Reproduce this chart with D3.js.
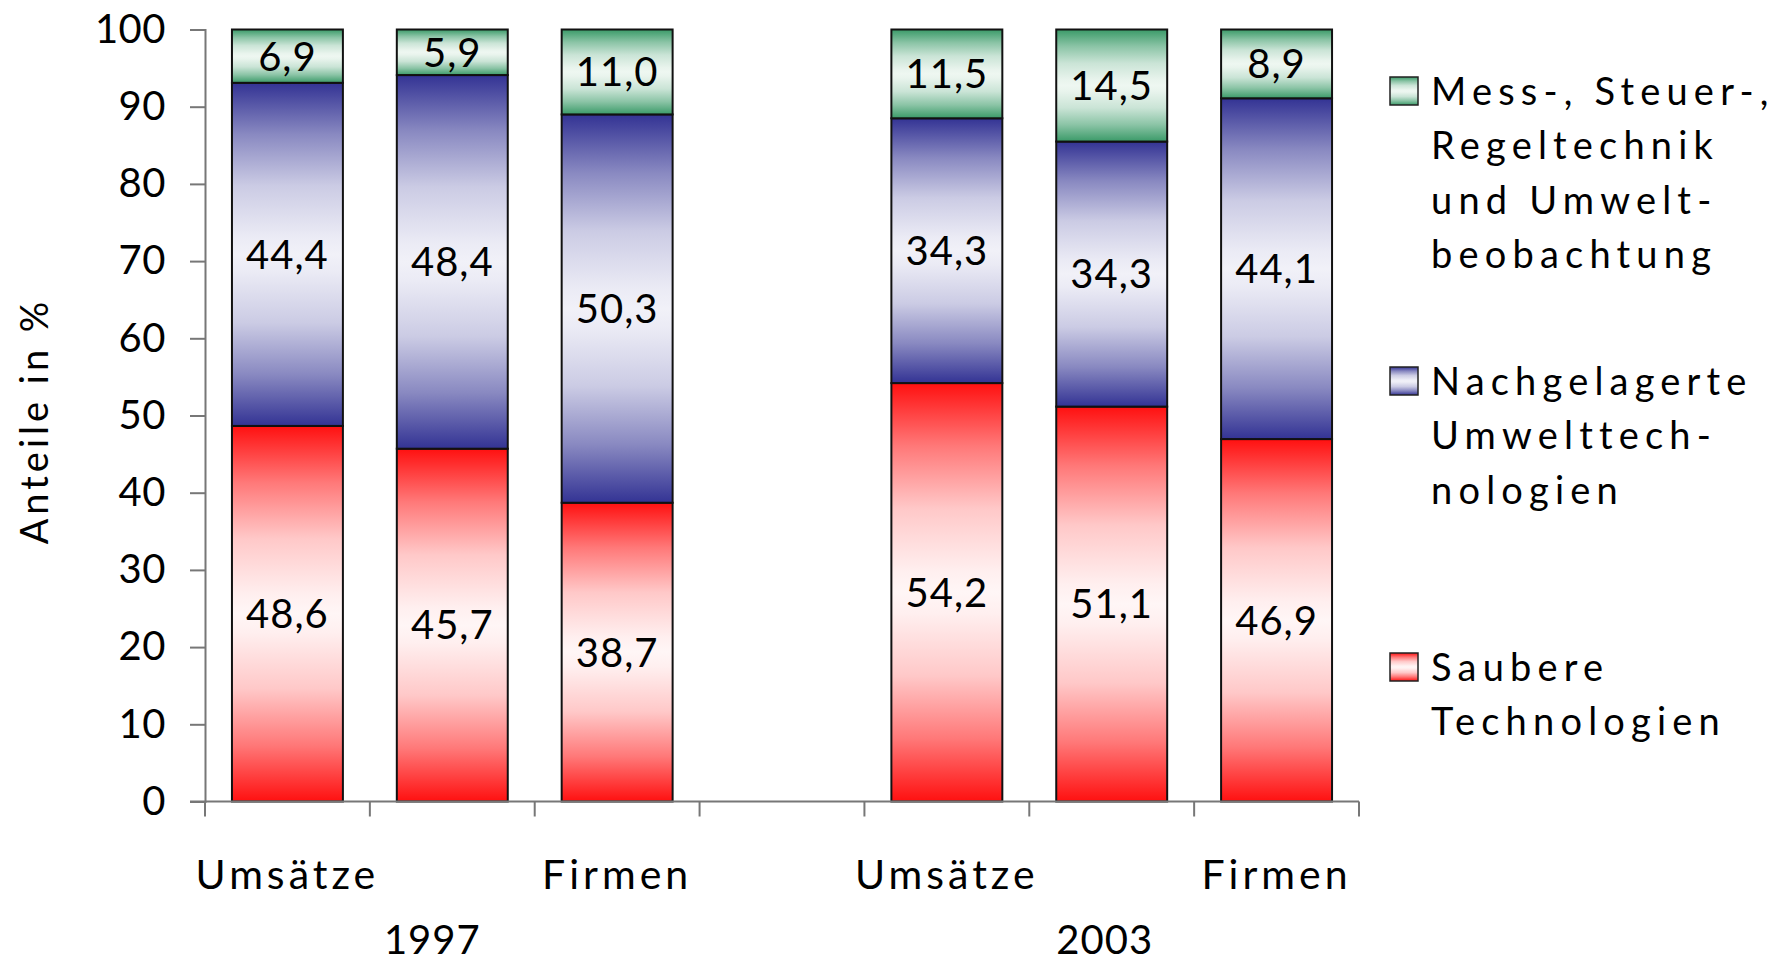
<!DOCTYPE html>
<html>
<head>
<meta charset="utf-8">
<script src="https://cdn.jsdelivr.net/npm/d3@7"></script>
<style>
  html, body { margin: 0; padding: 0; background: #fff; }
  svg { display: block; font-family: "Lato", "DejaVu Sans", sans-serif; }
</style>
</head>
<body>
<svg id="chart" width="1783" height="964"></svg>
<script>
// ---- data ----
const years = ["1997", "2003"];
const categories = ["Umsätze", "", "Firmen"];       // middle category label not shown in the original
const seriesNames = ["Saubere Technologien", "Nachgelagerte Umwelttechnologien", "Mess-, Steuer-, Regeltechnik und Umweltbeobachtung"];
const saubere      = [48.6, 45.7, 38.7, 54.2, 51.1, 46.9];
const nachgelagert = [44.4, 48.4, 50.3, 34.3, 34.3, 44.1];
const messSteuer   = [6.9, 5.9, 11.0, 11.5, 14.5, 8.9];
const yTicks = [0, 10, 20, 30, 40, 50, 60, 70, 80, 90, 100];
const legendLines = [
  ["Mess-, Steuer-,", "Regeltechnik", "und Umwelt-", "beobachtung"],
  ["Nachgelagerte", "Umwelttech-", "nologien"],
  ["Saubere", "Technologien"]
];

// ---- styles ----
const edgeColors = ["#ff1010", "#333394", "#3a9a68"];
const midColors  = ["#fff6f6", "#f1f1f8", "#eef7f1"];
const yearLabelShift = [-20, -7];

const svg = d3.select("#chart");
const defs = svg.append("defs");
edgeColors.forEach((c, i) => {
  const g = defs.append("linearGradient").attr("id", "grad" + i)
    .attr("x1", 0).attr("y1", 0).attr("x2", 0).attr("y2", 1);
  const mix = d3.interpolateRgb(c, midColors[i]);
  [[0, 0], [0.15, 0.45], [0.3, 0.8], [0.45, 0.97], [0.5, 1], [0.55, 0.97], [0.7, 0.8], [0.85, 0.45], [1, 0]]
    .forEach(([o, t]) => g.append("stop").attr("offset", o).attr("stop-color", mix(t)));
});

// slots: 3 bars per year, with an empty slot between the years
const slots = [];
years.forEach((yr, yi) => {
  categories.forEach((c, ci) => slots.push({ year: yr, cat: c, idx: yi * 3 + ci }));
  if (yi < years.length - 1) slots.push({ year: null, cat: null, idx: null });
});
slots.forEach((s, i) => s.key = "s" + i);

const x = d3.scaleBand().domain(slots.map(s => s.key)).range([205, 1359]).padding(0);
const barW = x.bandwidth() * 0.673;
const y = d3.scaleLinear().domain([0, 100]).range([801.5, 29.5]);

// stacked data (100% stacked)
const rows = slots.filter(s => s.idx !== null).map(s => {
  const vals = [saubere[s.idx], nachgelagert[s.idx], messSteuer[s.idx]];
  const tot = d3.sum(vals);
  return { key: s.key, raw: vals, s0: vals[0] / tot * 100, s1: vals[1] / tot * 100, s2: vals[2] / tot * 100 };
});
const stack = d3.stack().keys(["s0", "s1", "s2"])(rows);

// bars
const gBars = svg.append("g");
stack.forEach((layer, li) => {
  gBars.selectAll(null).data(layer).join("rect")
    .attr("x", d => x(d.data.key) + (x.bandwidth() - barW) / 2)
    .attr("y", d => y(d[1]))
    .attr("width", barW)
    .attr("height", d => y(d[0]) - y(d[1]))
    .attr("fill", `url(#grad${li})`)
    .attr("stroke", "#111")
    .attr("stroke-width", 2);
});
// data labels
stack.forEach((layer, li) => {
  gBars.selectAll(null).data(layer).join("text")
    .attr("x", d => x(d.data.key) + x.bandwidth() / 2)
    .attr("y", d => y((d[0] + d[1]) / 2))
    .attr("dy", "0.36em")
    .attr("text-anchor", "middle")
    .attr("font-size", 40)
    .attr("letter-spacing", 1)
    .attr("fill", "#000")
    .text(d => d3.format(".1f")(d.data.raw[li]).replace(".", ","));
});

// y axis
const yAxis = svg.append("g").attr("transform", "translate(205,0)")
  .call(d3.axisLeft(y).tickValues(yTicks).tickSize(15).tickPadding(24).tickFormat(d3.format("d")));
yAxis.select(".domain").attr("stroke", "#777").attr("stroke-width", 2);
yAxis.selectAll(".tick line").attr("stroke", "#777").attr("stroke-width", 2);
yAxis.selectAll(".tick text").attr("font-size", 40).attr("font-family", "Lato, sans-serif").attr("fill", "#000").attr("letter-spacing", 0.5);

// x axis line and boundary ticks
const xg = svg.append("g");
xg.append("line").attr("x1", 190).attr("x2", 1359).attr("y1", y(0)).attr("y2", y(0))
  .attr("stroke", "#777").attr("stroke-width", 2);
const bounds = slots.map(s => x(s.key)).concat([x.range()[1]]);
xg.selectAll(null).data(bounds).join("line")
  .attr("x1", d => d).attr("x2", d => d)
  .attr("y1", y(0)).attr("y2", y(0) + 15)
  .attr("stroke", "#777").attr("stroke-width", 2);

// category labels
xg.selectAll(null).data(slots.filter(s => s.cat)).join("text")
  .attr("x", s => x(s.key) + x.bandwidth() / 2)
  .attr("y", 889)
  .attr("text-anchor", "middle")
  .attr("font-size", 41)
  .attr("letter-spacing", 4)
  .text(s => s.cat);

// year labels
years.forEach((yr, yi) => {
  const mid = slots.find(s => s.year === yr && s.idx === yi * 3 + 1);
  xg.append("text")
    .attr("x", x(mid.key) + x.bandwidth() / 2 + yearLabelShift[yi])
    .attr("y", 954)
    .attr("text-anchor", "middle")
    .attr("font-size", 40)
    .attr("letter-spacing", 1)
    .text(yr);
});

// y axis title
svg.append("text")
  .attr("transform", "translate(48,421) rotate(-90)")
  .attr("text-anchor", "middle")
  .attr("font-size", 38)
  .attr("letter-spacing", 4)
  .text("Anteile in %");

// legend
const legendY = [91, 381, 667];
const legendOrder = [2, 1, 0];
const lg = svg.append("g");
legendOrder.forEach((si, k) => {
  const cy = legendY[k];
  lg.append("rect").attr("x", 1390).attr("y", cy - 14).attr("width", 28).attr("height", 28)
    .attr("fill", `url(#grad${si})`).attr("stroke", "#222").attr("stroke-width", 1.5);
  legendLines[k].forEach((ln, j) => {
    lg.append("text")
      .attr("x", 1431).attr("y", cy + j * 54.6).attr("dy", "0.36em")
      .attr("font-size", 38).attr("letter-spacing", 6.2)
      .text(ln);
  });
});
</script>
</body>
</html>
